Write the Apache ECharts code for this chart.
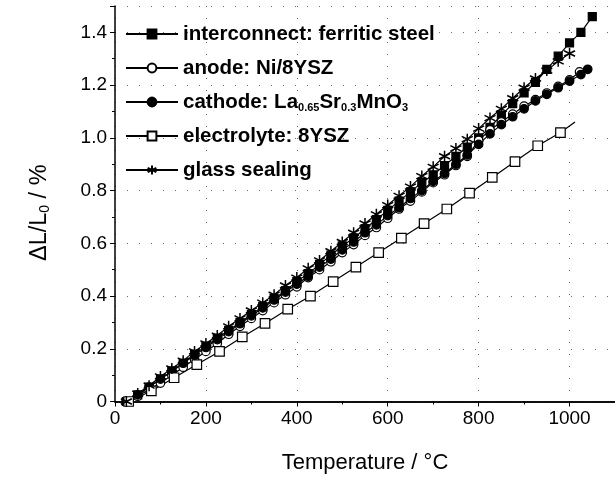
<!DOCTYPE html>
<html>
<head>
<meta charset="utf-8">
<script src="https://cdn.jsdelivr.net/npm/echarts@6/dist/echarts.min.js"></script>
<style>
  html, body { margin: 0; padding: 0; background: #fff; }
  #chart { width: 615px; height: 480px; }
</style>
</head>
<body>
<div id="chart"></div>
<script>
// temperatures (°C) and relative expansion (%)
var tInter = [25, 50, 75, 100, 125, 150, 175, 200, 225, 250, 275, 300, 325, 350, 375, 400, 425, 450, 475, 500,
              525, 550, 575, 600, 625, 650, 675, 700, 725, 750, 775, 800, 825, 850, 875, 900, 925, 950, 975, 1000, 1025, 1050];
var vInter = [0.00, 0.025, 0.055, 0.085, 0.115, 0.145, 0.18, 0.21, 0.24, 0.27, 0.30, 0.33, 0.36, 0.39, 0.42, 0.455, 0.485, 0.52, 0.555, 0.59,
              0.62, 0.655, 0.69, 0.725, 0.76, 0.795, 0.83, 0.86, 0.895, 0.93, 0.965, 1.00, 1.04, 1.085, 1.13, 1.17, 1.21, 1.26, 1.31, 1.36, 1.40, 1.46];

var tAnode = [25, 50, 75, 100, 125, 150, 175, 200, 225, 250, 275, 300, 325, 350, 375, 400, 425, 450, 475, 500,
              525, 550, 575, 600, 625, 650, 675, 700, 725, 750, 775, 800, 825, 850, 875, 900, 925, 950, 975, 1000, 1022];
var vAnode = [0.00, 0.02, 0.045, 0.07, 0.10, 0.13, 0.16, 0.19, 0.22, 0.255, 0.285, 0.315, 0.345, 0.375, 0.405, 0.435, 0.47, 0.50, 0.53, 0.565,
              0.595, 0.63, 0.66, 0.695, 0.73, 0.76, 0.795, 0.83, 0.86, 0.895, 0.93, 0.99, 1.03, 1.06, 1.09, 1.12, 1.145, 1.17, 1.195, 1.22, 1.25];

var tCath = [25, 50, 75, 100, 125, 150, 175, 200, 225, 250, 275, 300, 325, 350, 375, 400, 425, 450, 475, 500,
             525, 550, 575, 600, 625, 650, 675, 700, 725, 750, 775, 800, 825, 850, 875, 900, 925, 950, 975, 1000, 1025, 1040];
var vCath = [0.00, 0.025, 0.055, 0.085, 0.115, 0.145, 0.175, 0.205, 0.235, 0.265, 0.295, 0.325, 0.355, 0.385, 0.415, 0.445, 0.475, 0.51, 0.54, 0.575,
             0.605, 0.64, 0.67, 0.705, 0.735, 0.77, 0.80, 0.835, 0.865, 0.90, 0.935, 0.975, 1.015, 1.05, 1.08, 1.11, 1.14, 1.165, 1.19, 1.215, 1.24, 1.26];

var tElec = [30, 80, 130, 180, 230, 280, 330, 380, 430, 480, 530, 580, 630, 680, 730, 780, 830, 880, 930, 980, 1012];
var vElec = [0.00, 0.04, 0.09, 0.14, 0.19, 0.245, 0.296, 0.35, 0.40, 0.455, 0.51, 0.565, 0.62, 0.675, 0.73, 0.79, 0.85, 0.91, 0.97, 1.02, 1.06];

var tGlass = [25, 50, 75, 100, 125, 150, 175, 200, 225, 250, 275, 300, 325, 350, 375, 400, 425, 450, 475, 500,
              525, 550, 575, 600, 625, 650, 675, 700, 725, 750, 775, 800, 825, 850, 875, 900, 925, 950, 975, 1000];
var vGlass = [0.00, 0.03, 0.06, 0.095, 0.125, 0.155, 0.19, 0.22, 0.25, 0.285, 0.315, 0.345, 0.375, 0.405, 0.44, 0.47, 0.505, 0.535, 0.57, 0.605,
              0.64, 0.675, 0.71, 0.745, 0.78, 0.815, 0.855, 0.89, 0.93, 0.96, 0.995, 1.035, 1.075, 1.11, 1.15, 1.19, 1.225, 1.255, 1.29, 1.32];

var seriesNames = [
    'interconnect: ferritic steel',
    'anode: Ni/8YSZ',
    'cathode: La{sub|0.65}Sr{sub|0.3}MnO{sub|3}',
    'electrolyte: 8YSZ',
    'glass sealing'
];

var FONT = 'Liberation Sans';
var STAR = 'path://M0,-5L0,5M-4.3,-2.5L4.3,2.5M-4.3,2.5L4.3,-2.5';
var GRIDLINE = { show: true, lineStyle: { color: '#666', width: 1, type: [1, 11] } };

function pairs(t, v) {
    return t.map(function (x, i) { return [x, v[i]]; });
}

function mkSeries(name, data, symbol, size, fill) {
    return {
        name: name,
        type: 'line',
        data: data,
        symbol: symbol,
        symbolSize: size,
        showAllSymbol: true,
        lineStyle: { color: '#000', width: 1.2 },
        itemStyle: { color: fill, borderColor: '#000', borderWidth: 1.2 },
        emphasis: { disabled: true },
        z: 3
    };
}

var elecData = pairs(tElec, vElec);
elecData[elecData.length - 1] = { value: elecData[elecData.length - 1], symbol: 'none' };

var glassSeries = mkSeries(seriesNames[4], pairs(tGlass, vGlass), STAR, 11, 'none');
glassSeries.itemStyle = { color: 'none', borderColor: '#000', borderWidth: 1.5 };

var chart = echarts.init(document.getElementById('chart'));
var option = {
    animation: false,
    backgroundColor: '#fff',
    grid: { left: 115, top: 6, width: 500.5, height: 395.5 },
    legend: {
        left: 120,
        top: 18,
        orient: 'vertical',
        itemWidth: 52,
        itemHeight: 11,
        itemGap: 12,
        data: seriesNames,
        textStyle: {
            fontFamily: FONT, fontSize: 20.5, fontWeight: 'bold', color: '#000', lineHeight: 22,
            rich: {
                sub: { fontFamily: FONT, fontSize: 11, fontWeight: 'bold', color: '#000', lineHeight: 10, verticalAlign: 'bottom' }
            }
        }
    },
    xAxis: [{
        type: 'value',
        min: 0, max: 1100, interval: 200,
        name: 'Temperature / °C',
        nameLocation: 'middle',
        nameGap: 50,
        nameTextStyle: { fontFamily: FONT, fontSize: 22, color: '#000' },
        axisLine: { onZero: false, lineStyle: { color: '#000', width: 1.5 } },
        axisTick: { length: 5, lineStyle: { color: '#000' } },
        minorTick: { show: true, splitNumber: 2, length: 3, lineStyle: { color: '#000' } },
        axisLabel: {
            fontFamily: FONT, fontSize: 19, color: '#000', margin: 8, showMaxLabel: false,
            formatter: function (v) { return String(v); }
        },
        splitLine: GRIDLINE
    }, {
        type: 'value',
        position: 'top',
        min: 0, max: 1100,
        axisLine: { show: true, lineStyle: { color: '#000', width: 1.5 } },
        axisTick: { show: false },
        axisLabel: { show: false },
        splitLine: { show: false }
    }],
    yAxis: {
        type: 'value',
        min: 0, max: 1.5, interval: 0.2,
        name: 'ΔL/L{sub|0} / %',
        nameLocation: 'middle',
        nameGap: 63,
        nameTextStyle: {
            fontFamily: FONT, fontSize: 23.5, color: '#000', padding: [0, 18, 0, 0],
            rich: { sub: { fontFamily: FONT, fontSize: 14, color: '#000', lineHeight: 12, verticalAlign: 'bottom' } }
        },
        axisLine: { show: true, lineStyle: { color: '#000', width: 1.5 } },
        axisTick: { show: true, length: 5, lineStyle: { color: '#000' } },
        minorTick: { show: true, splitNumber: 2, length: 3, lineStyle: { color: '#000' } },
        axisLabel: {
            fontFamily: FONT, fontSize: 19, color: '#000', margin: 8, showMaxLabel: false,
            formatter: function (v) { return v === 0 ? '0' : v.toFixed(1); }
        },
        splitLine: GRIDLINE
    },
    series: [
        mkSeries(seriesNames[0], pairs(tInter, vInter), 'rect', 8, '#000'),
        mkSeries(seriesNames[1], pairs(tAnode, vAnode), 'circle', 8.5, '#fff'),
        mkSeries(seriesNames[2], pairs(tCath, vCath), 'circle', 8.5, '#000'),
        mkSeries(seriesNames[3], elecData, 'rect', 9.5, '#fff'),
        glassSeries
    ]
};
chart.setOption(option);
</script>
</body>
</html>
